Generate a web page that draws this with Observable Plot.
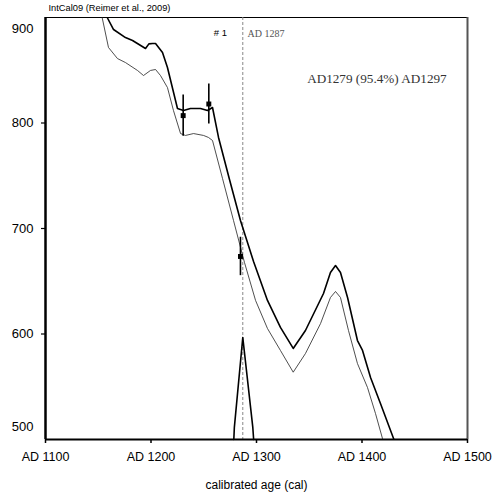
<!DOCTYPE html>
<html>
<head>
<meta charset="utf-8">
<script src="https://cdn.jsdelivr.net/npm/d3@7"></script>
<script src="https://cdn.jsdelivr.net/npm/@observablehq/plot@0.6"></script>
<style>
  html, body { margin: 0; padding: 0; background: #fff; }
</style>
</head>
<body>
<div id="chart"></div>
<script>
// IntCal09 calibration curve, upper band (thick line)
const upperYear = [1157, 1158.5, 1164.5, 1175.8, 1182.5, 1194.8, 1198, 1201.4, 1204.3, 1210.9, 1215.6, 1225.1, 1230.8, 1237.4, 1246.9, 1253.6, 1258.3, 1264.0, 1274.4, 1284.8, 1297.2, 1310.4, 1322.7, 1334.8, 1346.4, 1363.5, 1370.1, 1374.9, 1379.6, 1386.3, 1395.7, 1400.5, 1408.1, 1417.5, 1429.9, 1431];
const upperBP   = [905, 900, 888.6, 881.0, 878.2, 870.6, 875, 875.4, 875.4, 866.8, 852.6, 813.7, 811.8, 813.7, 813.7, 811.8, 814.7, 786.3, 746.4, 707.6, 668.7, 631.8, 606.2, 586.3, 603.3, 638.4, 658.3, 664.9, 658.3, 634.6, 593.8, 584.4, 558.8, 534.1, 501.0, 497];

// IntCal09 calibration curve, lower band (thin line)
const lowerYear = [1152.5, 1153.7, 1159.7, 1168.2, 1175.8, 1187.2, 1192.9, 1199.5, 1204.3, 1209.0, 1215.6, 1221.3, 1228.0, 1232.7, 1240.3, 1249.8, 1254.5, 1258.3, 1267.8, 1278.2, 1288.6, 1299.1, 1310.4, 1322.7, 1334.8, 1346.4, 1360.7, 1370.1, 1374.9, 1379.6, 1387.2, 1395.7, 1405.2, 1412.8, 1419.4, 1420.5];
const lowerBP   = [905, 900, 871.6, 861.1, 857.3, 849.8, 845.0, 849.8, 850.7, 845.0, 833.6, 811.8, 790.0, 788.2, 790.0, 788.2, 786.3, 783.4, 747.4, 707.6, 667.8, 631.8, 605.2, 584.4, 563.8, 581.5, 609.9, 634.6, 640.3, 634.6, 603.3, 572.0, 549.3, 524.6, 501.0, 497];

// Measured ages with error bars
const sampleYear = [1230.5, 1254.8, 1284.8];
const sampleBP   = [807, 818, 673.5];
const sampleErr  = [19.5, 19, 18.2];

// Calibrated probability distribution (relative)
const probYear = [1278.5, 1279, 1287, 1296.5, 1297.3];
const probRel  = [0, 0.118, 1, 0.118, 0];

// Axis ticks
const xTicks = [1100, 1200, 1300, 1400, 1500];
const yTicksMid = [600, 700, 800];

const markYear = 1287;
const titleText = "IntCal09 (Reimer et al., 2009)";
const sampleLabel = "# 1";
const markLabel = "AD 1287";
const rangeLabel = "AD1279 (95.4%) AD1297";
const xTitle = "calibrated age (cal)";

const upper = upperYear.map((x, i) => ({x, y: upperBP[i]}));
const lower = lowerYear.map((x, i) => ({x, y: lowerBP[i]}));
const samples = sampleYear.map((x, i) => ({x, y: sampleBP[i], e: sampleErr[i]}));
const prob = probYear.map((x, i) => ({x, p: probRel[i]}));

const sans = "Liberation Sans, Arial, sans-serif";
const serif = "Liberation Serif, Times New Roman, serif";

const chart = Plot.plot({
  width: 495,
  height: 496,
  marginLeft: 45,
  marginRight: 28,
  marginTop: 17,
  marginBottom: 57,
  x: {domain: [1100, 1500], label: null},
  y: {domain: [500, 900], label: null},
  style: {fontFamily: sans, background: "white", color: "black"},
  marks: [
    // frame
    Plot.ruleY([900], {stroke: "black", strokeWidth: 1}),
    Plot.ruleX([1500], {stroke: "#555", strokeWidth: 2}),
    // dashed marker line
    Plot.ruleX([markYear], {stroke: "#888", strokeWidth: 1, strokeDasharray: "3,2"}),
    // calibration curve
    Plot.line(upper, {x: "x", y: "y", stroke: "black", strokeWidth: 1.6, clip: true}),
    Plot.line(lower, {x: "x", y: "y", stroke: "#222", strokeWidth: 0.8, clip: true}),
    // probability distribution
    Plot.line(prob, {x: "x", y: d => 500 + d.p * 96.7, stroke: "black", strokeWidth: 1.6}),
    // samples
    Plot.ruleX(samples, {x: "x", y1: d => d.y - d.e, y2: d => d.y + d.e, stroke: "black", strokeWidth: 1.6}),
    Plot.dot(samples, {x: "x", y: "y", symbol: "square", r: 2.8, fill: "black", stroke: "none"}),
    // axes
    Plot.ruleX([1100], {stroke: "black", strokeWidth: 2.5}),
    Plot.ruleY([500], {stroke: "black", strokeWidth: 2}),
    Plot.axisX(xTicks, {tickSize: 4, tickPadding: 9, tickFormat: d => "AD " + d, fontSize: 12.5, label: null, strokeWidth: 1.5}),
    Plot.axisY(yTicksMid, {tickSize: 4, tickPadding: 8, tickFormat: d => String(d), fontSize: 13, label: null, strokeWidth: 1.2}),
    Plot.axisY([900], {tickSize: 0, tickPadding: 12, tickFormat: d => String(d), fontSize: 13, label: null, dy: 11.5}),
    Plot.axisY([500], {tickSize: 0, tickPadding: 12, tickFormat: d => String(d), fontSize: 13, label: null, dy: -13}),
    // texts
    Plot.text([xTitle], {text: d => d, frameAnchor: "bottom", dy: 49, fontSize: 12, fontFamily: sans}),
    Plot.text([titleText], {text: d => d, frameAnchor: "top-left", textAnchor: "start", dx: 3, dy: -7, lineAnchor: "bottom", fontSize: 9.3, fontFamily: sans}),
    Plot.text([sampleLabel], {text: d => d, x: 1265.8, frameAnchor: "top", dy: 12, fontSize: 9.5, fontFamily: sans}),
    Plot.text([markLabel], {text: d => d, x: 1291.5, frameAnchor: "top", textAnchor: "start", dy: 12, fontSize: 10, fontFamily: serif, fill: "#555"}),
    Plot.text([rangeLabel], {text: d => d, x: 1348, frameAnchor: "top", textAnchor: "start", dy: 56, fontSize: 13.2, fontFamily: serif, fill: "#333"})
  ]
});
document.getElementById("chart").appendChild(chart);
</script>
</body>
</html>
